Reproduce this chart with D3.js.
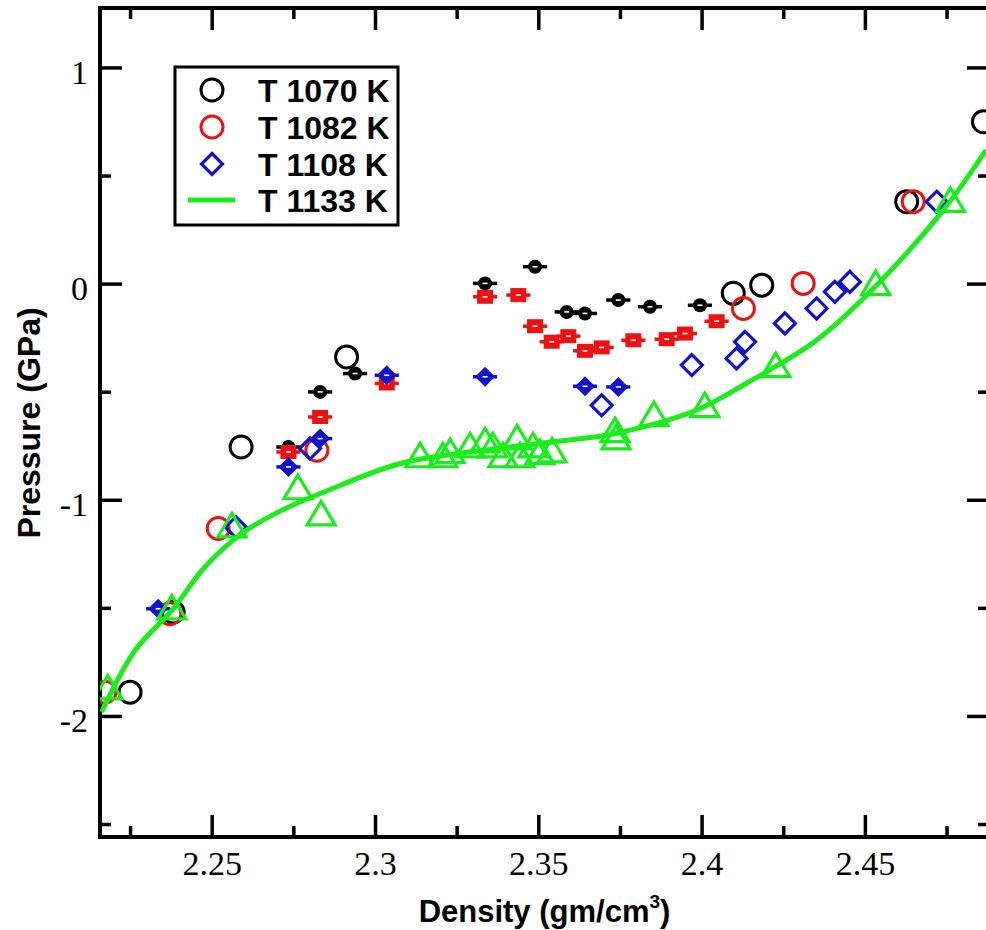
<!DOCTYPE html>
<html>
<head>
<meta charset="utf-8">
<script src="https://cdn.jsdelivr.net/npm/d3@7"></script>
<style>
  body { margin: 0; background: #fff; }
  svg { display: block; }
  .tick text { font-family: "Liberation Serif", Tinos, "DejaVu Serif", serif; font-size: 34px; }
  .title { font-family: "Liberation Sans", Arimo, Arial, sans-serif; font-weight: bold; }
</style>
</head>
<body>
<div id="chart"></div>
<script>
// tick values
var densityTicks = [2.25, 2.3, 2.35, 2.4, 2.45];
var densityMinor = [2.225, 2.275, 2.325, 2.375, 2.425, 2.475];
var pressureTicks = [-2, -1, 0, 1];
var pressureMinor = [-2.5, -1.5, -0.5, 0.5];

// legend
var seriesNames = ["T 1070 K", "T 1082 K", "T 1108 K", "T 1133 K"];

// [density, pressure]
var t1070Open = [[2.2250, -1.890], [2.2382, -1.519], [2.2590, -0.756], [2.2913, -0.339],
  [2.4097, -0.045], [2.4184, -0.007], [2.4628, 0.379], [2.4863, 0.749]];
var t1070Err = [[2.2735, -0.756], [2.2832, -0.501], [2.2939, -0.416], [2.3337, 0.001],
  [2.3490, 0.078], [2.3587, -0.131], [2.3643, -0.138], [2.3745, -0.076], [2.3842, -0.107],
  [2.3995, -0.100]];
var t1082Open = [[2.2173, -1.890], [2.2372, -1.527], [2.2520, -1.133], [2.2822, -0.771],
  [2.4128, -0.115], [2.4311, 0.001], [2.4648, 0.379]];
var t1082Err = [[2.2735, -0.779], [2.2832, -0.617], [2.3036, -0.462], [2.3337, -0.061],
  [2.3439, -0.053], [2.3490, -0.197], [2.3541, -0.269], [2.3592, -0.243], [2.3643, -0.311],
  [2.3694, -0.295], [2.3791, -0.262], [2.3893, -0.257], [2.3949, -0.231], [2.4046, -0.174]];
var t1108Open = [[2.2574, -1.127], [2.2801, -0.763], [2.3694, -0.563], [2.3970, -0.377],
  [2.4107, -0.346], [2.4133, -0.269], [2.4255, -0.184], [2.4352, -0.115], [2.4408, -0.038],
  [2.4454, 0.008], [2.4720, 0.379]];
var t1108Err = [[2.2336, -1.504], [2.2735, -0.848], [2.2832, -0.717], [2.3036, -0.424],
  [2.3337, -0.431], [2.3643, -0.475], [2.3745, -0.478]];
var t1133Tri = [[2.2182, -1.868], [2.2378, -1.498], [2.2562, -1.118], [2.2764, -0.942],
  [2.2835, -1.063], [2.3138, -0.794], [2.3208, -0.794], [2.3230, -0.775], [2.3291, -0.748],
  [2.3337, -0.725], [2.3361, -0.748], [2.3392, -0.794], [2.3435, -0.711], [2.3444, -0.794],
  [2.3484, -0.748], [2.3505, -0.780], [2.3542, -0.771], [2.3735, -0.678], [2.3738, -0.711],
  [2.3854, -0.604], [2.4010, -0.562], [2.4227, -0.377], [2.4533, 0.002], [2.4762, 0.387]];
var t1133Fit = [[2.2163, -1.982], [2.2265, -1.697], [2.2378, -1.512], [2.2479, -1.311],
  [2.2592, -1.156], [2.2714, -1.049], [2.2857, -0.956], [2.3077, -0.832], [2.3331, -0.771],
  [2.3587, -0.725], [2.3740, -0.692], [2.3983, -0.586], [2.4136, -0.462], [2.4352, -0.262],
  [2.4531, -0.015], [2.4740, 0.340], [2.4871, 0.618]];
var densityErr = 0.0037;

var svgWidth = 986;
var svgHeight = 930;
var plot = { left: 100, right: 989, top: 8, bottom: 837 };

var black = "#000000", red = "#ee1111", blue = "#1212cc", green = "#1aee1a";

var svg = d3.select("#chart").append("svg")
  .attr("width", svgWidth)
  .attr("height", svgHeight);

var x = d3.scaleLinear().domain([2.2158, 2.4880]).range([plot.left, plot.right]);
var y = d3.scaleLinear().domain([-2.56, 1.275]).range([plot.bottom, plot.top]);

svg.append("clipPath").attr("id", "clip")
  .append("rect")
  .attr("x", plot.left).attr("y", plot.top)
  .attr("width", plot.right - plot.left).attr("height", plot.bottom - plot.top);

// axes: major + minor ticks on all four sides, pointing inward
function styleAxis(g) {
  g.attr("font-family", null).attr("font-size", null);
  g.select(".domain").remove();
  g.selectAll(".tick line").attr("stroke", "#000").attr("stroke-width", 3.5);
  g.selectAll("text").attr("fill", "#000");
}

svg.append("g").attr("transform", `translate(0, ${plot.bottom})`)
  .call(d3.axisBottom(x).tickValues(densityTicks).tickSize(-22).tickPadding(14).tickFormat(d => String(d)))
  .call(styleAxis);
svg.append("g").attr("transform", `translate(0, ${plot.bottom})`)
  .call(d3.axisBottom(x).tickValues(densityMinor).tickSize(-11).tickFormat(""))
  .call(styleAxis);
svg.append("g").attr("transform", `translate(0, ${plot.top})`)
  .call(d3.axisTop(x).tickValues(densityTicks).tickSize(-22).tickFormat(""))
  .call(styleAxis);
svg.append("g").attr("transform", `translate(0, ${plot.top})`)
  .call(d3.axisTop(x).tickValues(densityMinor).tickSize(-11).tickFormat(""))
  .call(styleAxis);

svg.append("g").attr("transform", `translate(${plot.left}, 0)`)
  .call(d3.axisLeft(y).tickValues(pressureTicks).tickSize(-22).tickPadding(12).tickFormat(d => String(d)))
  .call(styleAxis)
  .selectAll("text").attr("dy", "0.46em");
svg.append("g").attr("transform", `translate(${plot.left}, 0)`)
  .call(d3.axisLeft(y).tickValues(pressureMinor).tickSize(-11).tickFormat(""))
  .call(styleAxis);
svg.append("g").attr("transform", `translate(${plot.right}, 0)`)
  .call(d3.axisRight(y).tickValues(pressureTicks).tickSize(-22).tickFormat(""))
  .call(styleAxis);
svg.append("g").attr("transform", `translate(${plot.right}, 0)`)
  .call(d3.axisRight(y).tickValues(pressureMinor).tickSize(-11).tickFormat(""))
  .call(styleAxis);

// frame
svg.append("rect")
  .attr("x", plot.left).attr("y", plot.top)
  .attr("width", plot.right - plot.left).attr("height", plot.bottom - plot.top)
  .attr("fill", "none").attr("stroke", "#000").attr("stroke-width", 4);

var chartGroup = svg.append("g").attr("clip-path", "url(#clip)");

function diamond(cx, cy, r) {
  return `M${cx},${cy - r}L${cx + r},${cy}L${cx},${cy + r}L${cx - r},${cy}Z`;
}
function triangle(cx, cy) {
  return `M${cx},${cy - 12}L${cx + 14},${cy + 11.5}L${cx - 14},${cy + 11.5}Z`;
}

// filled symbols with horizontal error bars
function errSeries(data, color, shape) {
  var g = chartGroup.append("g");
  g.selectAll("line").data(data).enter().append("line")
    .attr("x1", d => x(d[0] - densityErr)).attr("x2", d => x(d[0] + densityErr))
    .attr("y1", d => y(d[1])).attr("y2", d => y(d[1]))
    .attr("stroke", color).attr("stroke-width", 3.5);
  var marks = g.selectAll(".mk").data(data).enter();
  if (shape === "circle") {
    marks.append("circle").attr("class", "mk")
      .attr("cx", d => x(d[0])).attr("cy", d => y(d[1])).attr("r", 7).attr("fill", color);
  } else if (shape === "square") {
    marks.append("rect").attr("class", "mk")
      .attr("x", d => x(d[0]) - 8).attr("y", d => y(d[1]) - 7)
      .attr("width", 16).attr("height", 14).attr("fill", color);
  } else {
    marks.append("path").attr("class", "mk")
      .attr("d", d => diamond(x(d[0]), y(d[1]), 10)).attr("fill", color);
  }
  g.selectAll(".dot").data(data).enter().append("rect")
    .attr("x", d => x(d[0]) - 2.5).attr("y", d => y(d[1]) - 0.8)
    .attr("width", 5).attr("height", 1.6).attr("fill", "#fff");
}

// T 1070
chartGroup.append("g").selectAll("circle").data(t1070Open).enter().append("circle")
  .attr("cx", d => x(d[0])).attr("cy", d => y(d[1])).attr("r", 11)
  .attr("fill", "none").attr("stroke", black).attr("stroke-width", 3);
errSeries(t1070Err, black, "circle");

// T 1082
chartGroup.append("g").selectAll("circle").data(t1082Open).enter().append("circle")
  .attr("cx", d => x(d[0])).attr("cy", d => y(d[1])).attr("r", 11)
  .attr("fill", "none").attr("stroke", red).attr("stroke-width", 3);
errSeries(t1082Err, red, "square");

// T 1108
chartGroup.append("g").selectAll("path").data(t1108Open).enter().append("path")
  .attr("d", d => diamond(x(d[0]), y(d[1]), 10.5))
  .attr("fill", "none").attr("stroke", blue).attr("stroke-width", 3.2);
errSeries(t1108Err, blue, "diamond");

// T 1133
chartGroup.append("g").selectAll("path").data(t1133Tri).enter().append("path")
  .attr("d", d => triangle(x(d[0]), y(d[1])))
  .attr("fill", "none").attr("stroke", green).attr("stroke-width", 3.2);

var fitLine = d3.line()
  .x(d => x(d[0]))
  .y(d => y(d[1]))
  .curve(d3.curveCatmullRom);
chartGroup.append("path")
  .datum(t1133Fit)
  .attr("d", fitLine)
  .attr("fill", "none").attr("stroke", green).attr("stroke-width", 5);

// legend
var legend = svg.append("g");
legend.append("rect")
  .attr("x", 175).attr("y", 67).attr("width", 223).attr("height", 158)
  .attr("fill", "#fff").attr("stroke", "#000").attr("stroke-width", 3);
var rowY = [90, 127, 164, 200];
legend.append("circle").attr("cx", 212).attr("cy", rowY[0]).attr("r", 11)
  .attr("fill", "none").attr("stroke", black).attr("stroke-width", 3);
legend.append("circle").attr("cx", 212).attr("cy", rowY[1]).attr("r", 11)
  .attr("fill", "none").attr("stroke", red).attr("stroke-width", 3);
legend.append("path").attr("d", diamond(212, rowY[2], 10.5))
  .attr("fill", "none").attr("stroke", blue).attr("stroke-width", 3.2);
legend.append("line").attr("x1", 188).attr("x2", 235).attr("y1", rowY[3]).attr("y2", rowY[3])
  .attr("stroke", green).attr("stroke-width", 5);
legend.selectAll("text").data(seriesNames).enter().append("text")
  .attr("class", "title")
  .attr("x", 258)
  .attr("y", (d, i) => rowY[i] + 11.5)
  .style("font-size", "32px")
  .text(d => d);

// axis titles
var xTitle = svg.append("text")
  .attr("class", "title")
  .attr("x", (plot.left + plot.right) / 2)
  .attr("y", 922)
  .attr("text-anchor", "middle")
  .style("font-size", "31px");
xTitle.append("tspan").text("Density (gm/cm");
xTitle.append("tspan").attr("dy", -14).style("font-size", "19px").text("3");
xTitle.append("tspan").attr("dy", 14).text(")");

svg.append("text")
  .attr("class", "title")
  .attr("transform", "translate(40, 423) rotate(-90)")
  .attr("text-anchor", "middle")
  .style("font-size", "32px")
  .text("Pressure (GPa)");
</script>
</body>
</html>
